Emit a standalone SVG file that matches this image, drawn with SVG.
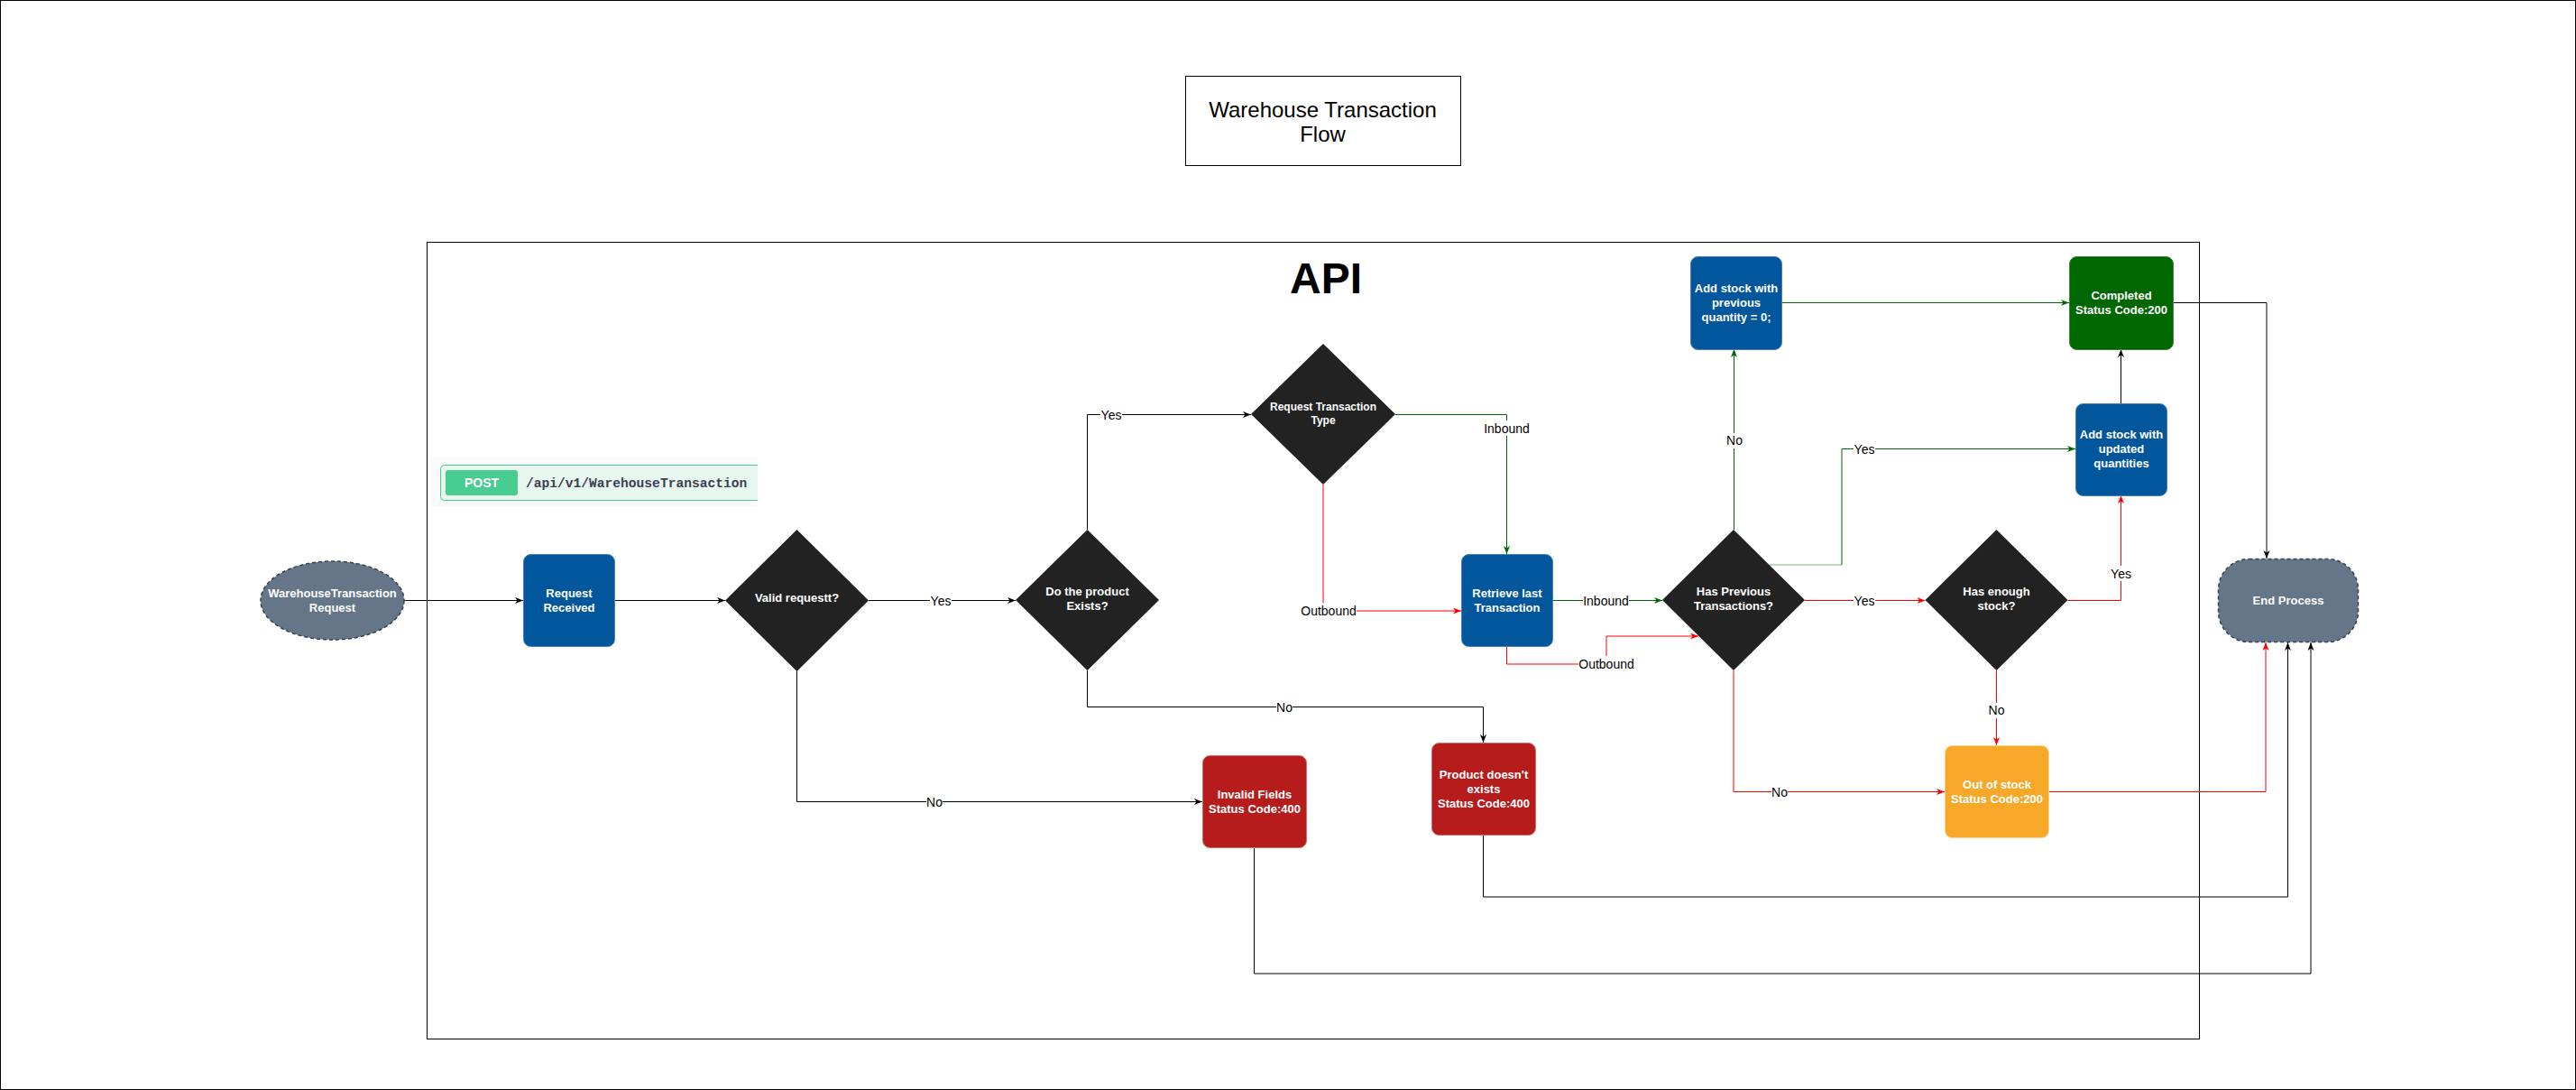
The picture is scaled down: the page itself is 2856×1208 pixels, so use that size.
<svg xmlns="http://www.w3.org/2000/svg" width="2856" height="1208" viewBox="0 0 2856 1208">
<style>
.t{font-family:"Liberation Sans",Arial,sans-serif;font-size:13px;font-weight:bold;fill:#fff;text-anchor:middle}
.t12{font-size:12px}
.lbl{font-family:"Liberation Sans",Arial,sans-serif;font-size:14px;fill:#000;text-anchor:middle}
.lbg{fill:#fff}
.e{fill:none;stroke-width:1}
.k{stroke:#000}
.g{stroke:#006600}
.r{stroke:#ff0000}
.blue{fill:#02569b;stroke:#4c7fb5;stroke-width:1}
.redn{fill:#b71c1c;stroke:#d46a6a;stroke-width:1}
.dia{fill:#222222;stroke:none}
</style>
<defs>
<marker id="ak" markerUnits="userSpaceOnUse" markerWidth="10" markerHeight="8" refX="9" refY="3.5" orient="auto"><path d="M0,0 L9,3.5 L0,7 L2.5,3.5 Z" fill="#000"/></marker>
<marker id="ag" markerUnits="userSpaceOnUse" markerWidth="10" markerHeight="8" refX="9" refY="3.5" orient="auto"><path d="M0,0 L9,3.5 L0,7 L2.5,3.5 Z" fill="#006600"/></marker>
<marker id="ar" markerUnits="userSpaceOnUse" markerWidth="10" markerHeight="8" refX="9" refY="3.5" orient="auto"><path d="M0,0 L9,3.5 L0,7 L2.5,3.5 Z" fill="#ff0000"/></marker>
</defs>
<rect x="0" y="0" width="2856" height="1208" fill="#fff"/>
<rect x="0.5" y="0.5" width="2855" height="1207" fill="none" stroke="#000"/>

<g id="title">
<rect x="1314.5" y="84.5" width="305" height="99" fill="#fff" stroke="#000"/>
<text x="1466.5" y="130" font-family="'Liberation Sans',Arial,sans-serif" font-size="24" text-anchor="middle" fill="#000">Warehouse Transaction</text>
<text x="1466.5" y="157" font-family="'Liberation Sans',Arial,sans-serif" font-size="24" text-anchor="middle" fill="#000">Flow</text>
</g>

<g id="api-container">
<rect x="473.5" y="268.5" width="1965" height="883" fill="none" stroke="#000"/>
<text x="1470" y="325" font-family="'Liberation Sans',Arial,sans-serif" font-size="48" font-weight="bold" text-anchor="middle" fill="#000">API</text>
</g>

<g id="post-badge">
<rect x="478" y="506" width="362" height="55" fill="#fafafa"/>
<rect x="488.5" y="515.5" width="360" height="39" rx="4" fill="#e8f6f0" stroke="#49cc90"/>
<rect x="494" y="521" width="80" height="28" rx="3" fill="#49cc90"/>
<text x="534" y="540" font-family="'Liberation Sans',Arial,sans-serif" font-size="14" font-weight="bold" text-anchor="middle" fill="#fff">POST</text>
<text x="583" y="540" font-family="'Liberation Mono','DejaVu Sans Mono',monospace" font-size="14.6" font-weight="bold" fill="#3b4151">/api/v1/WarehouseTransaction</text>
<rect x="840" y="500" width="20" height="66" fill="#fff"/>
</g>

<g id="connectors">
<path class="e k" d="M448,665.5 H580" marker-end="url(#ak)"/>
<path class="e k" d="M681,665.5 H804" marker-end="url(#ak)"/>
<path class="e k" d="M963,665.5 H1126" marker-end="url(#ak)"/>
<path class="e k" d="M883.5,744 V888.5 H1333" marker-end="url(#ak)"/>
<path class="e k" d="M1205.5,587 V459.5 H1387" marker-end="url(#ak)"/>
<path class="e k" d="M1205.5,743 V783.5 H1644.5 V823" marker-end="url(#ak)"/>
<path class="e g" d="M1547,459.5 H1670.5 V614" marker-end="url(#ag)"/>
<path class="e r" d="M1467,537 V677 H1620" marker-end="url(#ar)"/>
<path class="e g" d="M1721,665.5 H1843" marker-end="url(#ag)"/>
<path class="e r" d="M1670.5,716 V736 H1781 V705 H1883" marker-end="url(#ar)"/>
<path class="e g" d="M1922.5,587 V387" marker-end="url(#ag)"/>
<path class="e g" d="M1975,335.5 H2294" marker-end="url(#ag)"/>
<path class="e" stroke="#7fb27f" d="M1961.5,626 H2042"/>
<path class="e g" d="M2042,626 V497.5 H2301" marker-end="url(#ag)"/>
<path class="e r" d="M2001,665.5 H2134.5" marker-end="url(#ar)"/>
<path class="e r" d="M2292.5,665.5 H2351.5 V549" marker-end="url(#ar)"/>
<path class="e r" d="M2213.5,743 V826" marker-end="url(#ar)"/>
<path class="e r" d="M1922,743 V877.5 H2156" marker-end="url(#ar)"/>
<path class="e k" d="M2351.5,447 V387" marker-end="url(#ak)"/>
<path class="e k" d="M2409,335.5 H2513 V619" marker-end="url(#ak)"/>
<path class="e r" d="M2271,877.5 H2512 V712" marker-end="url(#ar)"/>
<path class="e k" d="M1644.5,925 V994 H2536.5 V712" marker-end="url(#ak)"/>
<path class="e k" d="M1390.5,939 V1079 H2562 V712" marker-end="url(#ak)"/>

<rect class="lbg" x="1031" y="657" width="24" height="17"/>
<text class="lbl" x="1043" y="670.5">Yes</text>
<rect class="lbg" x="1027" y="880" width="18" height="17"/>
<text class="lbl" x="1036" y="893.5">No</text>
<rect class="lbg" x="1220" y="451" width="24" height="17"/>
<text class="lbl" x="1232" y="464.5">Yes</text>
<rect class="lbg" x="1415" y="775" width="18" height="17"/>
<text class="lbl" x="1424" y="788.5">No</text>
<rect class="lbg" x="1645" y="466" width="51" height="17"/>
<text class="lbl" x="1670.5" y="480">Inbound</text>
<rect class="lbg" x="1442" y="668" width="62" height="17"/>
<text class="lbl" x="1473" y="682">Outbound</text>
<rect class="lbg" x="1755" y="657" width="51" height="17"/>
<text class="lbl" x="1780.5" y="670.5">Inbound</text>
<rect class="lbg" x="1750" y="727" width="62" height="17"/>
<text class="lbl" x="1781" y="741">Outbound</text>
<rect class="lbg" x="1914" y="480" width="18" height="17"/>
<text class="lbl" x="1923" y="493">No</text>
<rect class="lbg" x="2055" y="489" width="24" height="17"/>
<text class="lbl" x="2067" y="502.5">Yes</text>
<rect class="lbg" x="2055" y="657" width="24" height="17"/>
<text class="lbl" x="2067" y="670.5">Yes</text>
<rect class="lbg" x="2339" y="627" width="24" height="17"/>
<text class="lbl" x="2351.5" y="641">Yes</text>
<rect class="lbg" x="2204" y="779" width="18" height="17"/>
<text class="lbl" x="2213.5" y="792">No</text>
<rect class="lbg" x="1964" y="869" width="18" height="17"/>
<text class="lbl" x="1973" y="882.5">No</text>
</g>

<g id="start">
<ellipse cx="368.5" cy="665.5" rx="79.5" ry="43.5" fill="#647687" stroke="#314354" stroke-width="1.5" stroke-dasharray="4 3"/>
<text class="t" x="368.5" y="661.5">WarehouseTransaction</text>
<text class="t" x="368.5" y="677.5">Request</text>
</g>

<g id="request-received">
<rect class="blue" x="580.5" y="614.5" width="101" height="102" rx="8"/>
<text class="t" x="631" y="661.5">Request</text>
<text class="t" x="631" y="677.5">Received</text>
</g>

<g id="valid-request">
<polygon class="dia" points="883.5,587 963,665.5 883.5,744 804,665.5"/>
<text class="t" x="883.5" y="667">Valid requestt?</text>
</g>

<g id="product-exists">
<polygon class="dia" points="1205.5,587 1285,665 1205.5,743 1126,665"/>
<text class="t" x="1205.5" y="660">Do the product</text>
<text class="t" x="1205.5" y="676">Exists?</text>
</g>

<g id="transaction-type">
<polygon class="dia" points="1467,381 1547,459 1467,537 1387,459"/>
<text class="t t12" x="1467" y="454.5">Request Transaction</text>
<text class="t t12" x="1467" y="469.5">Type</text>
</g>

<g id="retrieve-last">
<rect class="blue" x="1620.5" y="614.5" width="101" height="102" rx="8"/>
<text class="t" x="1671" y="661.5">Retrieve last</text>
<text class="t" x="1671" y="677.5">Transaction</text>
</g>

<g id="has-previous">
<polygon class="dia" points="1922,587 2001,665 1922,743 1843,665"/>
<text class="t" x="1922" y="660">Has Previous</text>
<text class="t" x="1922" y="676">Transactions?</text>
</g>

<g id="add-previous">
<rect class="blue" x="1874.5" y="284.5" width="101" height="103" rx="8"/>
<text class="t" x="1925" y="323.5">Add stock with</text>
<text class="t" x="1925" y="339.5">previous</text>
<text class="t" x="1925" y="355.5">quantity = 0;</text>
</g>

<g id="completed">
<rect x="2294.5" y="284.5" width="115" height="103" rx="8" fill="#006600" stroke="#3d8a3d"/>
<text class="t" x="2352" y="331.5">Completed</text>
<text class="t" x="2352" y="347.5">Status Code:200</text>
</g>

<g id="add-updated">
<rect class="blue" x="2301.5" y="447.5" width="101" height="102" rx="8"/>
<text class="t" x="2352" y="486">Add stock with</text>
<text class="t" x="2352" y="502">updated</text>
<text class="t" x="2352" y="518">quantities</text>
</g>

<g id="has-enough">
<polygon class="dia" points="2213.5,587 2292.5,665 2213.5,743 2134.5,665"/>
<text class="t" x="2213.5" y="660">Has enough</text>
<text class="t" x="2213.5" y="676">stock?</text>
</g>

<g id="out-of-stock">
<rect x="2156.5" y="826.5" width="115" height="102" rx="8" fill="#f8a829" stroke="#fbd38a"/>
<text class="t" x="2214" y="873.5">Out of stock</text>
<text class="t" x="2214" y="889.5">Status Code:200</text>
</g>

<g id="end">
<rect x="2459.5" y="619.5" width="155" height="92" rx="34" ry="34" fill="#647687" stroke="#314354" stroke-width="1.5" stroke-dasharray="4 3"/>
<text class="t" x="2537" y="670">End Process</text>
</g>

<g id="invalid-fields">
<rect class="redn" x="1333.5" y="837.5" width="115" height="102" rx="8"/>
<text class="t" x="1391" y="884.5">Invalid Fields</text>
<text class="t" x="1391" y="900.5">Status Code:400</text>
</g>

<g id="product-missing">
<rect class="redn" x="1587.5" y="823.5" width="115" height="102" rx="8"/>
<text class="t" x="1645" y="862.5">Product doesn't</text>
<text class="t" x="1645" y="878.5">exists</text>
<text class="t" x="1645" y="894.5">Status Code:400</text>
</g>
</svg>
